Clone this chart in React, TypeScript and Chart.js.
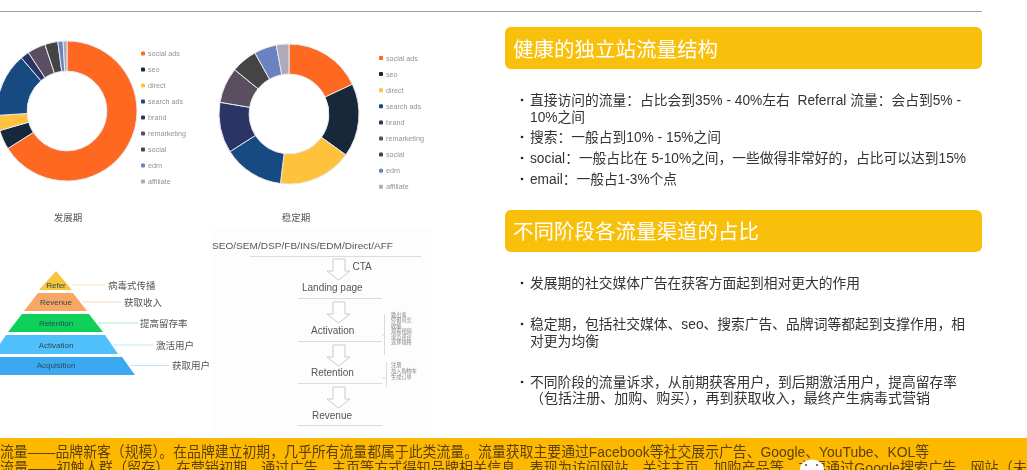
import { useEffect, useRef } from "react"
import { Chart, registerables } from "chart.js"

Chart.register(...registerables)

const channels = ["social ads", "seo", "direct", "search ads", "brand", "remarketing", "social", "edm", "affiliate"]
const growthShare = [66, 4.5, 3.5, 14.7, 2, 4.2, 3, 1.2, 0.9]
const stableShare = [18, 16.9, 17, 14, 11.7, 8.2, 6, 5.2, 2.9]
const channelColors = ["#FF6820", "#16283A", "#FFC23C", "#174A80", "#2A3565", "#5A4E60", "#444444", "#6A82C0", "#AFA9B8"]

const FONT = '"Liberation Sans", "Noto Sans CJK SC", sans-serif'

// 金字塔层
const pyramid = [
  { name: "Refer", note: "病毒式传播", color: "#F8C63A", pts: "56,271 72,290 39,290", y: 285, x1: 72, x2: 105, tx: 108, line: "#F6E3B0" },
  { name: "Revenue", note: "获取收入", color: "#F7A664", pts: "38,293 73,293 87,311 24,311", y: 302, x1: 82, x2: 121, tx: 124, line: "#F7D9BF" },
  { name: "Retention", note: "提高留存率", color: "#0FD05A", pts: "22,314 89,314 103,332 8,332", y: 323, x1: 98, x2: 138, tx: 140, line: "#B5E8C8" },
  { name: "Activation", note: "激活用户", color: "#4FC0FA", pts: "6,335 105,335 118,354 -7,354", y: 345, x1: 113, x2: 153, tx: 156, line: "#C5E8F8" },
  { name: "Acquisition", note: "获取用户", color: "#3BA9F0", pts: "-10,357 122,357 135,375 -24,375", y: 365.5, x1: 130, x2: 169, tx: 172, line: "#C0E2F6" },
]

const flowSteps = [
  { label: "Landing page", x: 302, y: 291, lineY: 298 },
  { label: "Activation", x: 311, y: 334, lineY: 341 },
  { label: "Retention", x: 311, y: 376, lineY: 383 },
  { label: "Revenue", x: 312, y: 419, lineY: 425 },
]
const arrowTops = [259, 302, 345, 387]
const activationNotes = ["跳出率", "停留时长", "收藏", "观看视频", "浏览评论", "选择规格"]
const retentionNotes = ["注册", "加入购物车", "生成订单"]

const textLines = [
  { t: "直接访问的流量：占比会到35% - 40%左右  Referral 流量：会占到5% -", y: 105, bullet: true, w: 431 },
  { t: "10%之间", y: 122, bullet: false, w: 55 },
  { t: "搜索：一般占到10% - 15%之间", y: 142, bullet: true, w: 191 },
  { t: "social：一般占比在 5-10%之间，一些做得非常好的，占比可以达到15%", y: 163, bullet: true, w: 436 },
  { t: "email：一般占1-3%个点", y: 184, bullet: true, w: 147 },
  { t: "发展期的社交媒体广告在获客方面起到相对更大的作用", y: 288, bullet: true, w: 330 },
  { t: "稳定期，包括社交媒体、seo、搜索广告、品牌词等都起到支撑作用，相", y: 329, bullet: true, w: 435 },
  { t: "对更为均衡", y: 346, bullet: false, w: 69 },
  { t: "不同阶段的流量诉求，从前期获客用户，到后期激活用户，提高留存率", y: 387, bullet: true, w: 427 },
  { t: "（包括注册、加购、购买），再到获取收入，最终产生病毒式营销", y: 403, bullet: false, w: 400 },
]

function Donut({ values, left, top }: { values: number[]; left: number; top: number }) {
  const ref = useRef<HTMLCanvasElement | null>(null)

  useEffect(() => {
    if (!ref.current) return
    const chart = new Chart(ref.current, {
      type: "doughnut",
      data: {
        labels: channels,
        datasets: [{ data: values, backgroundColor: channelColors, borderColor: "#E8E8EE", borderWidth: 1 }],
      },
      options: {
        responsive: false,
        animation: false,
        radius: 70,
        cutout: "57%",
        plugins: { legend: { display: false }, tooltip: { enabled: false } },
      },
    })
    return () => chart.destroy()
  }, [values])

  return (
    <canvas
      ref={ref}
      width={160}
      height={160}
      style={{ position: "absolute", left, top, width: 160, height: 160, filter: "blur(0.4px)" }}
    />
  )
}

function Legend({ dotX, startY, step }: { dotX: number; startY: number; step: number }) {
  return (
    <g style={{ filter: "blur(0.3px)" }}>
      {channels.map((name, i) => (
        <g key={name}>
          <rect x={dotX - 2} y={startY + i * step - 2} width={4} height={4} rx={1} fill={channelColors[i]} />
          <text x={dotX + 5} y={startY + i * step + 2.6} fontSize={7.2} fill="#929292">
            {name}
          </text>
        </g>
      ))}
    </g>
  )
}

function DownArrow({ top }: { top: number }) {
  const p = [
    [333, 0], [345, 0], [345, 12], [350, 12], [338.5, 21], [327, 12], [333, 12],
  ]
  return <polygon points={p.map(([x, y]) => `${x},${y + top}`).join(" ")} fill="#fff" stroke="#c3ccd2" strokeWidth={1} />
}

export default function App() {
  return (
    <div style={{ position: "absolute", left: 0, top: 0, width: 1027, height: 470, overflow: "hidden", background: "#fff", fontFamily: FONT }}>
      <Donut values={growthShare} left={-13} top={31} />
      <Donut values={stableShare} left={209} top={34} />
      <svg width={1027} height={470} style={{ position: "absolute", left: 0, top: 0 }} fontFamily={FONT}>
        <line x1={0} x2={982} y1={11.5} y2={11.5} stroke="#a0a0a0" />
        <Legend dotX={143} startY={53.5} step={16} />
        <Legend dotX={381} startY={58} step={16.1} />
        <text x={68} y={221} fontSize={9.5} textAnchor="middle" fill="#555">发展期</text>
        <text x={296} y={221} fontSize={9.5} textAnchor="middle" fill="#555">稳定期</text>

        {/* 金字塔 */}
        <g style={{ filter: "blur(0.4px)" }}>
          {pyramid.map((tier) => (
            <g key={tier.name}>
              <polygon points={tier.pts} fill={tier.color} />
              <line x1={tier.x1} x2={tier.x2} y1={tier.y} y2={tier.y} stroke={tier.line} strokeWidth={1} />
              <text x={56} y={tier.y + 2.8} fontSize={8} textAnchor="middle" fill="#2c4a58">{tier.name}</text>
              <text x={tier.tx} y={tier.y + 3.5} fontSize={9.5} fill="#555">{tier.note}</text>
            </g>
          ))}
        </g>

        {/* 转化流程 */}
        <g style={{ filter: "blur(0.4px)" }}>
          <rect x={210} y={228} width={222} height={208} fill="#fdfdfd" />
          <text x={212} y={249} fontSize={9.5} textLength={181} lengthAdjust="spacingAndGlyphs" fill="#555">SEO/SEM/DSP/FB/INS/EDM/Direct/AFF</text>
          <line x1={250} x2={421} y1={256.5} y2={256.5} stroke="#d5dde2" />
          <text x={352.5} y={269.5} fontSize={10} fill="#555">CTA</text>
          {arrowTops.map((top) => <DownArrow key={top} top={top} />)}
          {flowSteps.map((s) => (
            <g key={s.label}>
              <text x={s.x} y={s.y} fontSize={10} fill="#555">{s.label}</text>
              <line x1={298} x2={382} y1={s.lineY + 0.5} y2={s.lineY + 0.5} stroke="#d5dde2" />
            </g>
          ))}
          <path d="M382 335 H384.5 M384.5 314 V355" stroke="#d5dde2" fill="none" />
          <path d="M382 378 H386.5 M386.5 362 V387" stroke="#d5dde2" fill="none" />
          {activationNotes.map((n, i) => (
            <text key={n} x={391} y={317 + i * 5.4} fontSize={5.2} fill="#888">{n}</text>
          ))}
          {retentionNotes.map((n, i) => (
            <text key={n} x={391} y={367 + i * 6} fontSize={5.2} fill="#888">{n}</text>
          ))}
        </g>

        {/* 右侧标题 */}
        <rect x={505} y={27} width={477} height={42} rx={6} fill="#F8C00A" />
        <text x={513} y={57} fontSize={20.5} fill="#fff">健康的独立站流量结构</text>
        <rect x={505} y={210} width={477} height={42} rx={6} fill="#F8C00A" />
        <text x={513} y={239} fontSize={20.5} fill="#fff">不同阶段各流量渠道的占比</text>

        {textLines.map((l) => (
          <g key={l.t}>
            {l.bullet && <circle cx={522} cy={l.y - 5} r={1.3} fill="#222" />}
            <text x={530} y={l.y} fontSize={14} fill="#333" textLength={l.w} lengthAdjust="spacingAndGlyphs" style={{ whiteSpace: "pre" }}>{l.t}</text>
          </g>
        ))}

        {/* 底部黄条 */}
        <rect x={0} y={438} width={1027} height={32} fill="#FFB800" />
        <text x={0} y={457} fontSize={15} fill="#5c4205" textLength={929} lengthAdjust="spacingAndGlyphs">流量——品牌新客（规模）。在品牌建立初期，几乎所有流量都属于此类流量。流量获取主要通过Facebook等社交展示广告、Google、YouTube、KOL等</text>
        <text x={0} y={473} fontSize={15} fill="#5c4205" textLength={1027} lengthAdjust="spacingAndGlyphs">流量——初触人群（留存）。在营销初期，通过广告、主页等方式得知品牌相关信息，表现为访问网站、关注主页、加购产品等。主要通过Google搜索广告、网站（未</text>
        <ellipse cx={812} cy={469} rx={12} ry={9.5} fill="#fff" />
        <circle cx={806} cy={465} r={1} fill="#444" />
        <circle cx={817} cy={465} r={1} fill="#444" />
      </svg>
    </div>
  )
}
